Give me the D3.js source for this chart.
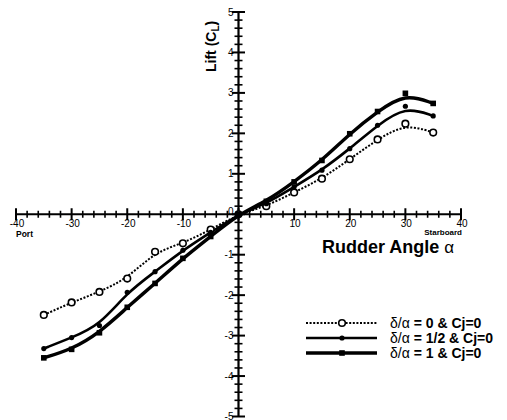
<!DOCTYPE html>
<html><head><meta charset="utf-8">
<script src="https://cdn.jsdelivr.net/npm/d3@7"></script>
<style>body{margin:0;background:#fff}svg{display:block}text{font-family:"Liberation Sans",Arial,sans-serif}</style>
</head><body>
<script>
const angles = [-35,-30,-25,-20,-15,-10,-5,0,5,10,15,20,25,30,35];
const lift0 = [-2.49,-2.18,-1.92,-1.59,-0.93,-0.72,-0.38,0,0.2,0.54,0.88,1.36,1.85,2.24,2.02];
const liftHalf = [-3.32,-3.05,-2.75,-1.93,-1.42,-0.89,-0.45,0,0.26,0.68,1.09,1.62,2.20,2.67,2.43];
const liftOne = [-3.55,-3.34,-2.93,-2.30,-1.71,-1.09,-0.55,0,0.32,0.80,1.33,1.99,2.54,2.99,2.74];
const seriesNames = ["δ/α = 0 & Cj=0","δ/α = 1/2 & Cj=0","δ/α = 1 & Cj=0"];
const xTickLabels = [-40,-30,-20,-10,10,20,30,40];
const yTickLabels = [5,4,3,2,1,-1,-2,-3,-4,-5];

const W=507,H=420;
const svg=d3.select("body").append("svg").attr("width",W).attr("height",H);
const x=d3.scaleLinear().domain([-40,40]).range([16,461]);
const y=d3.scaleLinear().domain([-5,5]).range([416.5,12]);
const x0=x(0), y0=y(0);

// axes lines
svg.append("line").attr("x1",x(-40)).attr("x2",x(40)).attr("y1",y0).attr("y2",y0).attr("stroke","#000").attr("stroke-width",2.2);
svg.append("line").attr("x1",x0).attr("x2",x0).attr("y1",y(5)).attr("y2",y(-5)).attr("stroke","#000").attr("stroke-width",2.2);
// x ticks
const xMinor=d3.range(-40,41,2).filter(v=>v%10!==0);
const xMajor=d3.range(-40,41,10);
svg.selectAll(".xmi").data(xMinor).join("line").attr("x1",d=>x(d)).attr("x2",d=>x(d)).attr("y1",y0-3.5).attr("y2",y0+3.5).attr("stroke","#000").attr("stroke-width",1.6);
svg.selectAll(".xma").data(xMajor).join("line").attr("x1",d=>x(d)).attr("x2",d=>x(d)).attr("y1",y0-6).attr("y2",y0+6).attr("stroke","#000").attr("stroke-width",2);
// y ticks
const yMinor=d3.range(-50,51,2).filter(v=>v%10!==0).map(v=>v/10);
const yMajor=d3.range(-5,6,1);
svg.selectAll(".ymi").data(yMinor).join("line").attr("y1",d=>y(d)).attr("y2",d=>y(d)).attr("x1",x0-4).attr("x2",x0+4).attr("stroke","#000").attr("stroke-width",1.6);
svg.selectAll(".yma").data(yMajor).join("line").attr("y1",d=>y(d)).attr("y2",d=>y(d)).attr("x1",x0-6.5).attr("x2",x0+6.5).attr("stroke","#000").attr("stroke-width",2);

// tick labels
svg.selectAll(".xl").data(xTickLabels).join("text").attr("x",d=>x(d)+1).attr("y",y0+13).attr("text-anchor","middle").attr("font-size",10).text(d=>d);
svg.selectAll(".yl").data(yTickLabels).join("text").attr("x",x0-5).attr("y",d=>y(d)+3.5).attr("text-anchor","end").attr("font-size",10).text(d=>d);
svg.append("text").attr("x",x0-5).attr("y",y0+1).attr("text-anchor","end").attr("font-size",10).text("0");

svg.append("text").attr("x",16).attr("y",237).attr("font-size",8.5).attr("font-weight","bold").text("Port");
svg.append("text").attr("x",462).attr("y",234.5).attr("text-anchor","end").attr("font-size",8).attr("font-weight","bold").text("Starboard");
const xt=svg.append("text").attr("x",322).attr("y",253).attr("font-size",18).attr("font-weight","bold");
xt.append("tspan").text("Rudder Angle ");
xt.append("tspan").attr("font-weight","normal").attr("font-size",17).text("α");
const yt=svg.append("text").attr("transform",`translate(216,72) rotate(-90)`).attr("font-size",14).attr("font-weight","bold");
yt.append("tspan").text("Lift (C");
yt.append("tspan").attr("font-size",10).attr("dy",3).text("L");
yt.append("tspan").attr("dy",-3).text(")");

// series
const series=[
 {vals:lift0, width:2, dash:"2,1.6", marker:"open"},
 {vals:liftHalf, width:2.6, dash:null, marker:"dot"},
 {vals:liftOne, width:3.4, dash:null, marker:"square"}
];
const line=d3.line().x(d=>x(d[0])).y(d=>y(d[1])).curve(d3.curveBasis);
function drawMarker(g,type,cx,cy){
  if(type==="open") g.append("circle").attr("cx",cx).attr("cy",cy).attr("r",3.3).attr("fill","#fff").attr("stroke","#000").attr("stroke-width",1.6);
  else if(type==="dot") g.append("circle").attr("cx",cx).attr("cy",cy).attr("r",2.6).attr("fill","#000");
  else g.append("rect").attr("x",cx-2.8).attr("y",cy-2.8).attr("width",5.6).attr("height",5.6).attr("fill","#000");
}
series.forEach(s=>{
  const pts=angles.map((a,i)=>[a,s.vals[i]]);
  const p=svg.append("path").attr("d",line(pts)).attr("fill","none").attr("stroke","#000").attr("stroke-width",s.width);
  if(s.dash) p.attr("stroke-dasharray",s.dash);
});
series.forEach(s=>{
  const g=svg.append("g");
  angles.forEach((a,i)=>drawMarker(g,s.marker,x(a),y(s.vals[i])));
});

// legend
const ly=[323,338,353];
series.forEach((s,i)=>{
  const l=svg.append("line").attr("x1",306).attr("x2",377).attr("y1",ly[i]).attr("y2",ly[i]).attr("stroke","#000").attr("stroke-width",s.width);
  if(s.dash) l.attr("stroke-dasharray",s.dash);
  drawMarker(svg,s.marker,342,ly[i]);
  const t=svg.append("text").attr("x",390).attr("y",ly[i]+5).attr("font-size",14).attr("font-weight","bold");
  const parts=seriesNames[i].split(" = ");
  t.append("tspan").attr("font-weight","normal").text(parts[0]);
  t.append("tspan").text(" = "+parts[1]);
});
</script>
</body></html>
